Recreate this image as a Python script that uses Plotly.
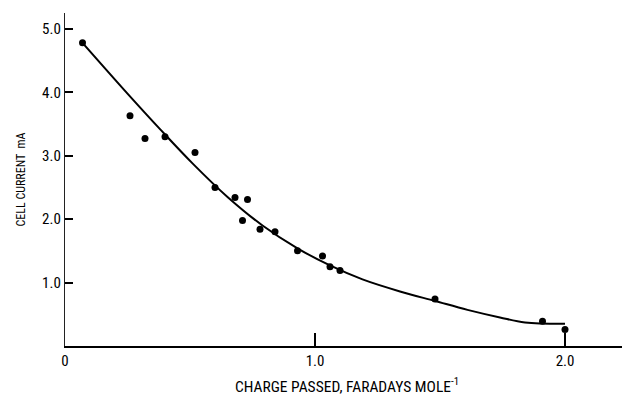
import plotly.graph_objects as go

# measured data points (charge passed, F/mol ; cell current, mA)
point_x = [0.07, 0.26, 0.32, 0.40, 0.52, 0.60, 0.68, 0.73, 0.71, 0.78, 0.84,
           0.93, 1.03, 1.06, 1.10, 1.48, 1.91, 2.00]
point_y = [4.78, 3.63, 3.27, 3.30, 3.05, 2.50, 2.34, 2.31, 1.98, 1.84, 1.80,
           1.50, 1.42, 1.25, 1.19, 0.74, 0.39, 0.26]

# hand-drawn smooth curve
curve_x = [0.07, 0.25, 0.38, 0.51, 0.65, 0.79, 0.93, 1.06, 1.19, 1.34, 1.48,
           1.61, 1.74, 1.84, 2.00]
curve_y = [4.78, 3.98, 3.42, 2.88, 2.35, 1.90, 1.54, 1.27, 1.05, 0.86, 0.71,
           0.57, 0.45, 0.37, 0.35]

x_tickvals = [0, 1, 2]
x_ticktext = ["0", "1.0", "2.0"]
y_tickvals = [1, 2, 3, 4, 5]
y_ticktext = ["1.0", "2.0", "3.0", "4.0", "5.0"]

FONT = "Roboto Condensed, DejaVu Sans Condensed, sans-serif"

fig = go.Figure()
fig.add_trace(go.Scatter(x=curve_x, y=curve_y, mode="lines",
                         line=dict(color="black", width=2, shape="spline", smoothing=1.0),
                         hoverinfo="skip", showlegend=False))
fig.add_trace(go.Scatter(x=point_x, y=point_y, mode="markers",
                         marker=dict(color="black", size=7),
                         showlegend=False))

fig.update_layout(
    width=622, height=396,
    margin=dict(l=65, r=0, t=13, b=50),
    paper_bgcolor="white", plot_bgcolor="white",
    font=dict(family=FONT, color="black", size=15),
    xaxis=dict(range=[0, 2.228], tickvals=x_tickvals, ticktext=x_ticktext,
               ticks="inside", ticklen=13, tickwidth=1.5, tickcolor="black",
               showline=True, linecolor="black", linewidth=2,
               showgrid=False, zeroline=False, fixedrange=True,
               tickfont=dict(size=15, family=FONT)),
    yaxis=dict(range=[0, 5.25], tickvals=y_tickvals, ticktext=y_ticktext,
               ticks="inside", ticklen=8, tickwidth=1.5, tickcolor="black",
               showline=True, linecolor="#222222", linewidth=1.3,
               showgrid=False, zeroline=False, fixedrange=True,
               tickfont=dict(size=15, family=FONT)),
    annotations=[
        dict(text="CHARGE PASSED, FARADAYS MOLE<sup>-1</sup>", xref="paper", yref="paper",
             x=0.506, y=-0.118, xanchor="center", yanchor="middle", showarrow=False,
             font=dict(size=15.5, family=FONT)),
        dict(text="CELL CURRENT  mA", xref="paper", yref="paper",
             x=-0.079, y=0.50, xanchor="center", yanchor="middle", textangle=-90,
             showarrow=False, font=dict(size=12, family=FONT)),
    ],
)

fig.write_html("out.html")
